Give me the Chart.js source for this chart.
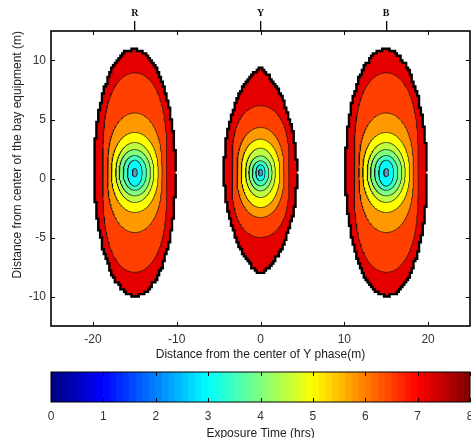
<!DOCTYPE html>
<html>
<head>
<meta charset="utf-8">
<script src="https://cdn.jsdelivr.net/npm/chart.js@4.4.1/dist/chart.umd.min.js"></script>
<style>
html, body { margin: 0; padding: 0; background: #fff; width: 471px; height: 438px; overflow: hidden; }
#main { position: absolute; left: 0; top: 0; }
#bar { position: absolute; left: 0; top: 365px; }
</style>
</head>
<body>
<canvas id="main" width="471" height="365"></canvas>
<canvas id="bar" width="471" height="80"></canvas>
<script>
"use strict";

// phase conductors (top axis)
const phaseLabels = ["R", "Y", "B"];
const phaseX = [-15, 0, 15];
const phaseY = [0.5, 0.5, 0.5];

// exposure time (hrs) of each filled band, innermost -> outermost
const bandHours = [2.5, 3.0, 3.5, 4.0, 4.5, 5.0, 5.8, 6.5, 7.2];

// outer edge of every band around the R and B phases (m)
const outerHalfWidth = [0.3, 0.88, 1.39, 1.87, 2.27, 2.79, 3.25, 3.82, 4.85];
const outerTop = [0.35, 1.05, 1.45, 1.95, 2.55, 3.4, 5.05, 8.45, 10.45];
const outerBottom = [0.35, 1.15, 1.5, 1.97, 2.53, 3.38, 5.08, 8.45, 10.45];

// outer edge of every band around the Y phase (m)
const middleHalfWidth = [0.25, 0.55, 0.98, 1.38, 1.78, 2.3, 2.8, 3.4, 4.35];
const middleTop = [0.3, 0.66, 1.0, 1.42, 2.07, 2.83, 3.82, 5.66, 8.85];
const middleBottom = [0.3, 0.7, 1.12, 1.55, 2.11, 2.96, 3.81, 5.5, 8.6];

// axis ticks
const xTicks = [-20, -10, 0, 10, 20];
const yTicks = [-10, -5, 0, 5, 10];
const hourTicks = [0, 1, 2, 3, 4, 5, 6, 7, 8];

// how square / pointed each band edge is (superellipse exponents)
const shapeSide = [2, 2, 2, 2, 2, 2, 2, 2, 2];
const shapeEnd = [2, 2, 2, 2, 2, 2.2, 2.6, 3.2, 2];
const middleSide = [2, 2, 2, 2, 2, 2, 2, 2, 1.35];
const middleEnd = [2, 2, 2, 2, 2, 2.2, 2.5, 3.2, 2.1];

// grid of the computed field, gives the slightly stepped outer edge
const gridStepX = 0.22;
const gridStepY = 0.2;

const FONT = "'Liberation Sans', Arial, sans-serif";
const HOURS_MAX = 8;

// matlab jet colormap
function jet(v) {
    const t = v / HOURS_MAX;
    const f = k => Math.round(255 * Math.max(0, Math.min(1, 1.5 - Math.abs(4 * t - k))));
    return `rgb(${f(3)},${f(2)},${f(1)})`;
}

// closed outline of one band edge
function outline(cx, cy, a, bt, bb, p, q) {
    const pts = [];
    const n = 180;
    for (let i = 0; i <= n; i++) {
        const th = i / n * 2 * Math.PI;
        const c = Math.cos(th), s = Math.sin(th);
        pts.push({
            x: cx + a * Math.sign(c) * Math.pow(Math.abs(c), 2 / p),
            y: cy + (s >= 0 ? bt : bb) * Math.sign(s) * Math.pow(Math.abs(s), 2 / q)
        });
    }
    return pts;
}

// snap an outline onto the field grid -> staircase edge
function stepped(pts) {
    const out = [];
    pts.forEach(pt => {
        const sx = Math.round(pt.x / gridStepX) * gridStepX;
        const sy = Math.round(pt.y / gridStepY) * gridStepY;
        const prev = out[out.length - 1];
        if (prev && prev.x === sx && prev.y === sy) return;
        if (prev && prev.x !== sx && prev.y !== sy) out.push({ x: sx, y: prev.y });
        out.push({ x: sx, y: sy });
    });
    return out;
}

// inner bands first so they are painted last (on top)
const datasets = [];
bandHours.forEach((h, i) => {
    const last = i === bandHours.length - 1;
    phaseX.forEach((cx, k) => {
        const mid = k === 1;
        let pts = mid
            ? outline(cx, phaseY[k], middleHalfWidth[i], middleTop[i], middleBottom[i], middleSide[i], middleEnd[i])
            : outline(cx, phaseY[k], outerHalfWidth[i], outerTop[i], outerBottom[i], shapeSide[i], shapeEnd[i]);
        if (last) pts = stepped(pts);
        datasets.push({
            data: pts,
            showLine: true,
            fill: "shape",
            backgroundColor: i === 0 ? "#5a9ab8" : jet(h),
            borderColor: last ? "#000" : "rgba(20,20,20,0.8)",
            borderWidth: last ? 2.4 : 0.9,
            pointRadius: 0,
            tension: 0
        });
    });
});

function fixedTicks(values) {
    return scale => { scale.ticks = values.map(v => ({ value: v })); };
}

function noSidePadding(scale) {
    scale.paddingLeft = 0;
    scale.paddingRight = 0;
    scale.paddingTop = 0;
    scale.paddingBottom = 0;
}

// box with inward tick marks, matlab style
const framePlugin = {
    id: "frame",
    afterDraw(chart) {
        const { ctx, chartArea: a } = chart;
        const x = chart.scales.x, y = chart.scales.y;
        ctx.save();
        ctx.strokeStyle = "#000";
        ctx.lineWidth = 1;
        ctx.beginPath();
        x.ticks.forEach(t => {
            const px = Math.round(x.getPixelForValue(t.value)) + 0.5;
            ctx.moveTo(px, a.bottom); ctx.lineTo(px, a.bottom - 4);
            ctx.moveTo(px, a.top); ctx.lineTo(px, a.top + 4);
        });
        if (y.options.display) {
            y.ticks.forEach(t => {
                const py = Math.round(y.getPixelForValue(t.value)) + 0.5;
                ctx.moveTo(a.left, py); ctx.lineTo(a.left + 4, py);
                ctx.moveTo(a.right, py); ctx.lineTo(a.right - 4, py);
            });
        }
        ctx.stroke();
        ctx.lineWidth = chart.canvas.id === "main" ? 1.6 : 1;
        ctx.strokeRect(a.left, a.top, a.right - a.left, a.bottom - a.top);
        ctx.restore();
    }
};

new Chart(document.getElementById("main"), {
    type: "scatter",
    data: { datasets },
    options: {
        responsive: false,
        animation: false,
        events: [],
        layout: { padding: { left: 0, right: 1, top: 0, bottom: 0 } },
        plugins: { legend: { display: false }, tooltip: { enabled: false } },
        scales: {
            x: {
                type: "linear", position: "bottom", min: -25, max: 25,
                afterBuildTicks: fixedTicks(xTicks),
                afterFit: s => { s.height = 39; noSidePadding(s); },
                grid: { display: false, drawTicks: false },
                border: { display: false },
                ticks: { padding: 6, color: "#333", font: { family: FONT, size: 12 } },
                title: {
                    display: true, text: "Distance from the center of Y phase(m)", color: "#222",
                    font: { family: FONT, size: 12 }, padding: { top: 0, bottom: 3 }
                }
            },
            x2: {
                type: "linear", position: "top", min: -25, max: 25,
                afterBuildTicks: fixedTicks(phaseX),
                afterFit: s => { s.height = 31; noSidePadding(s); },
                grid: { drawOnChartArea: false, drawTicks: true, tickLength: 10, color: "#000", lineWidth: 1.3 },
                border: { display: false },
                ticks: {
                    padding: 2, color: "#111",
                    font: { family: "'Liberation Serif', serif", size: 10, weight: "bold" },
                    callback: v => phaseLabels[phaseX.indexOf(v)]
                }
            },
            y: {
                type: "linear", position: "left", min: -12.5, max: 12.5,
                afterBuildTicks: fixedTicks(yTicks),
                afterFit: s => { s.width = 51; noSidePadding(s); },
                grid: { display: false, drawTicks: false },
                border: { display: false },
                ticks: { padding: 5, color: "#333", font: { family: FONT, size: 12 } },
                title: {
                    display: true, align: "end", text: "Distance from center of the bay equipment (m)",
                    color: "#222", font: { family: FONT, size: 12 }, padding: { top: 10, bottom: 0 }
                }
            }
        }
    },
    plugins: [framePlugin]
});

// colour bar: one bar per colormap step
const colorSteps = 64;
const barData = [], barColors = [];
for (let i = 0; i < colorSteps; i++) {
    const v = (i + 0.5) * HOURS_MAX / colorSteps;
    barData.push({ x: v, y: 1 });
    barColors.push(jet(v));
}

new Chart(document.getElementById("bar"), {
    type: "bar",
    data: {
        datasets: [{
            data: barData,
            backgroundColor: barColors,
            borderWidth: 0,
            barPercentage: 1,
            categoryPercentage: 1
        }]
    },
    options: {
        responsive: false,
        animation: false,
        events: [],
        layout: { padding: { left: 51, right: 1, top: 7, bottom: 0 } },
        plugins: { legend: { display: false }, tooltip: { enabled: false } },
        scales: {
            x: {
                type: "linear", position: "bottom", min: 0, max: HOURS_MAX, offset: false,
                afterBuildTicks: fixedTicks(hourTicks),
                afterFit: s => { s.height = 43; noSidePadding(s); },
                grid: { display: false, drawTicks: false },
                border: { display: false },
                ticks: { padding: 7, color: "#333", font: { family: FONT, size: 12 } },
                title: {
                    display: true, text: "Exposure Time (hrs)", color: "#222",
                    font: { family: FONT, size: 12 }, padding: { top: 0, bottom: 4 }
                }
            },
            y: { display: false, min: 0, max: 1 }
        }
    },
    plugins: [framePlugin]
});
</script>
</body>
</html>
